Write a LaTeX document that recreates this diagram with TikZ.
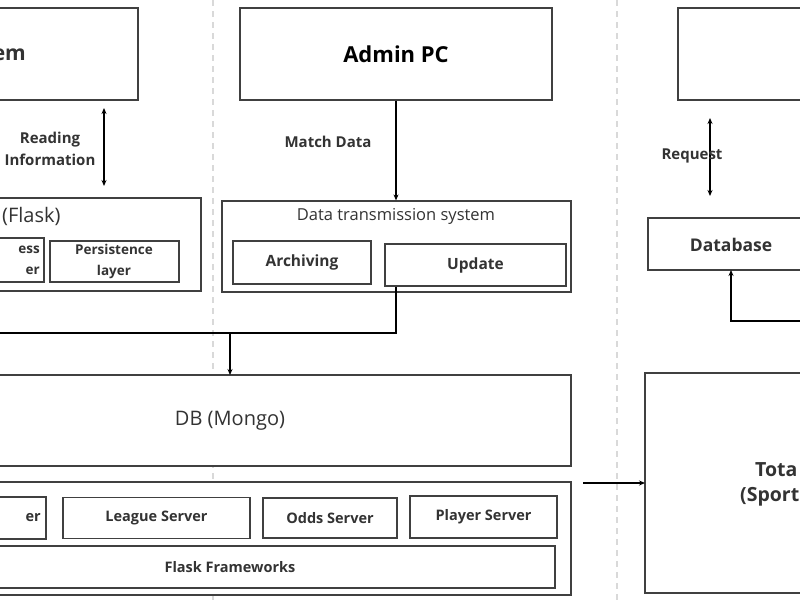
\documentclass[tikz,border=0pt]{standalone}
\usepackage{fontspec}
\setmainfont{Open Sans}
\usetikzlibrary{arrows.meta}
\begin{document}
\begin{tikzpicture}[x=1pt,y=-1pt,
  bx/.style={draw=black!75,fill=white,line width=1.2pt},
  ar/.style={-{Stealth[length=6pt,width=5pt]},line width=1.3pt},
  dar/.style={{Stealth[length=6pt,width=5pt]}-{Stealth[length=6pt,width=5pt]},line width=1.3pt},
  lbl/.style={font=\bfseries\fontsize{14.5}{17}\selectfont,text=black!80,align=center,inner sep=0},
  sep/.style={draw=black!15,line width=1.2pt,dash pattern=on 6pt off 5pt}]
\useasboundingbox (0,0) rectangle (800,600);
\clip (0,0) rectangle (800,600);
\fill[white] (0,0) rectangle (800,600);
\draw[sep] (213,0) -- (213,600);
\draw[sep] (617,0) -- (617,600);
% left column
\draw[bx] (-20,8) rectangle (138,100);
\node[lbl,font=\bfseries\fontsize{21}{24}\selectfont,anchor=east] (sys) at (26,55) {System};
\coordinate (ra) at (104,108); \coordinate (rb) at (104,186);
\draw[dar] (ra) -- (rb);
\node[lbl,font=\bfseries\fontsize{15}{22}\selectfont] (rd) at (50,149) {Reading\\Information};
\draw[bx] (-20,198) rectangle (201,291);
\node[font=\fontsize{20}{22}\selectfont,anchor=east,text=black!80] (fl) at (64,216) {(Flask)};
\draw[bx] (-20,238) rectangle (44,282);
\node[lbl,font=\bfseries\fontsize{13.5}{21}\selectfont,anchor=east,align=right] (bl) at (40,260) {ess\\er};
\draw[bx] (50,241) rectangle (179,282);
\node[lbl,font=\bfseries\fontsize{13.5}{21}\selectfont] (pl) at (114,261) {Persistence\\layer};
% middle
\node[bx,minimum width=312,minimum height=92,font=\bfseries\fontsize{22}{24}\selectfont] (adm) at (396,54) {Admin PC};
\node[bx,minimum width=349,minimum height=91] (dts) at (396.5,246.5) {};
\node[font=\fontsize{16.5}{18}\selectfont,text=black!80] (dtt) at (396,216) {Data transmission system};
\draw[ar] (adm.south) -- (adm.south |- dts.north);
\node[lbl,font=\bfseries\fontsize{15}{17}\selectfont] (md) at (328,142) {Match Data};
\node[bx,minimum width=138,minimum height=43,lbl,font=\bfseries\fontsize{15.5}{17}\selectfont] (arc) at (302,262.5) {Archiving};
\node[bx,minimum width=181,minimum height=42,lbl,font=\bfseries\fontsize{15.5}{17}\selectfont] (upd) at (475.5,265) {Update};
\coordinate (j) at (230,333);
\coordinate (u) at (396,333);
\draw[line width=1.3pt] (u |- upd.south) -- (u) -- (-10,333);
\draw[bx] (-20,375) rectangle (571,466);
\node[font=\fontsize{20}{22}\selectfont,text=black!80] (db) at (230,421) {DB (Mongo)};
\draw[ar] (j) -- (230,375);
\draw[bx] (-20,482) rectangle (571,595);
\draw[bx] (-20,497) rectangle (46,539);
\node[lbl,anchor=east] (s1) at (41,518) {er};
\node[bx,minimum width=187,minimum height=41,lbl] (lg) at (156.5,518) {League Server};
\node[bx,minimum width=134,minimum height=40,lbl] (od) at (330,518) {Odds Server};
\node[bx,minimum width=147,minimum height=42,lbl] (pl2) at (483.5,517) {Player Server};
\draw[bx] (-20,546) rectangle (555,588);
\node[lbl] (ff) at (230,567) {Flask Frameworks};
% right
\draw[bx] (678,8) rectangle (820,100);
\coordinate (qa) at (710,118); \coordinate (qb) at (710,196);
\draw[dar] (qa) -- (qb);
\node[lbl,font=\bfseries\fontsize{15}{17}\selectfont] (rq) at (692,156) {Request};
\draw[bx] (648,218) rectangle (820,270);
\node[lbl,font=\bfseries\fontsize{17.5}{19}\selectfont] (dbs) at (731,245) {Database};
\draw[ar] (820,321) -- (731,321) -- (731,270);
\draw[bx] (645,373) rectangle (820,593);
\node[lbl,font=\bfseries\fontsize{19.5}{27}\selectfont,anchor=west,align=left] (tot) at (755,470) {Tota};
\node[lbl,font=\bfseries\fontsize{19.5}{27}\selectfont,anchor=west,align=left] (sp) at (740,497) {(Sport};
\coordinate (ea) at (583,483);
\draw[ar] (ea) -- (645,483);
\end{tikzpicture}
\end{document}
